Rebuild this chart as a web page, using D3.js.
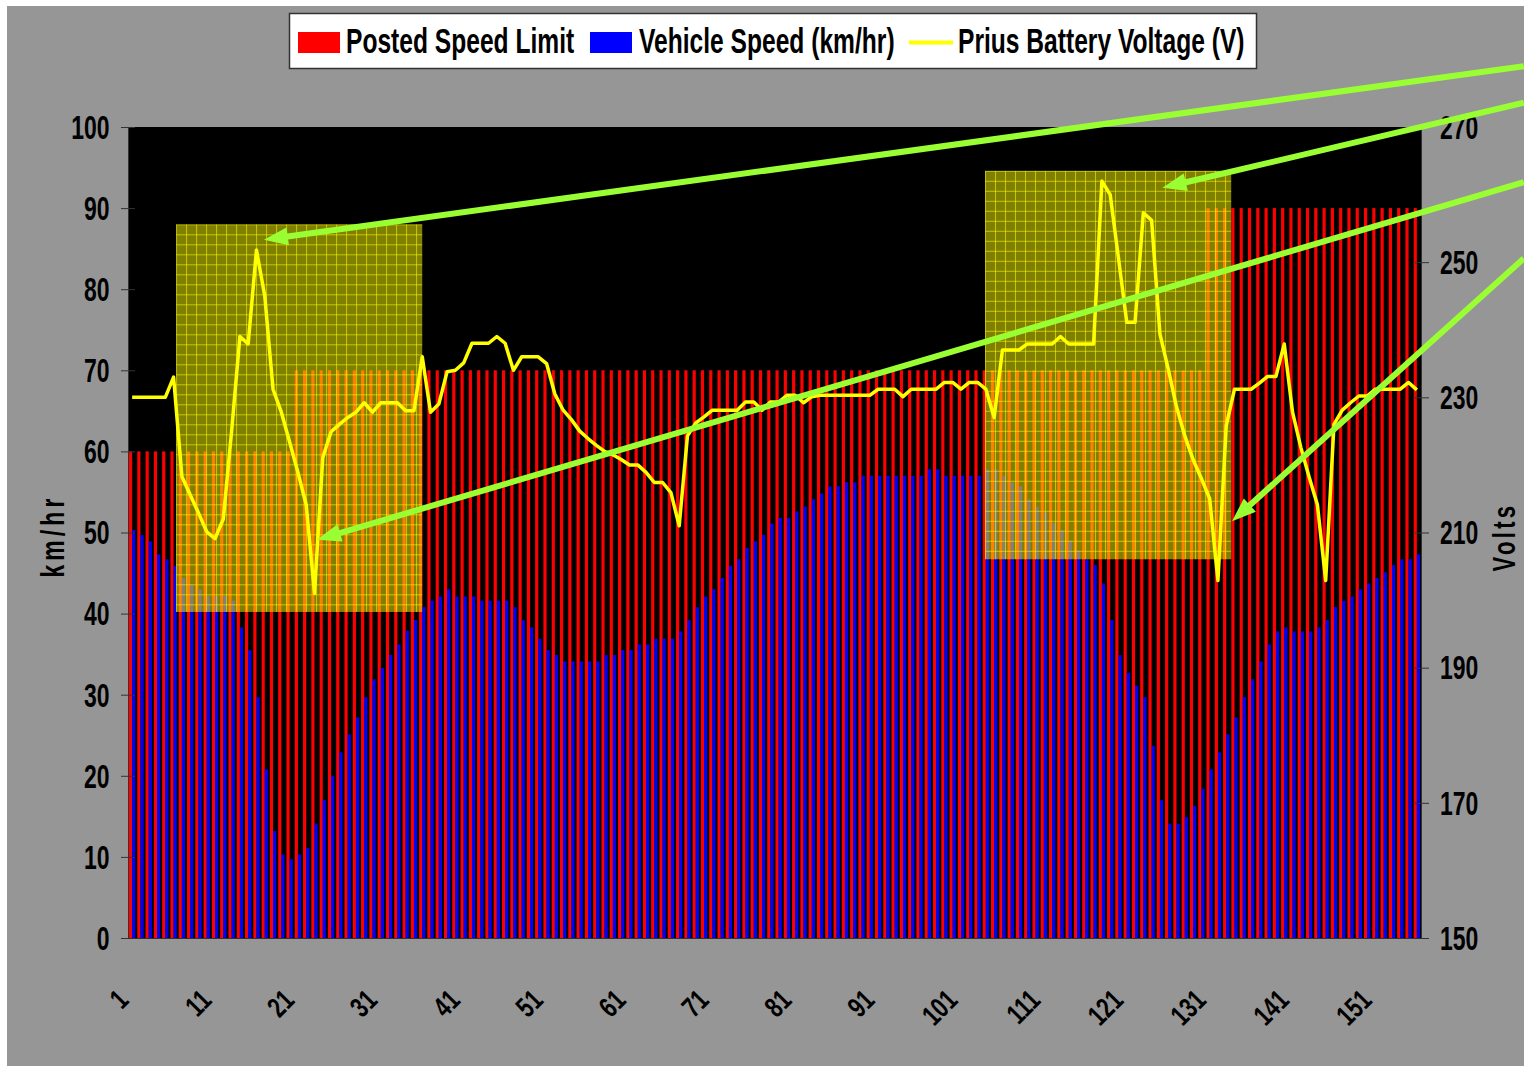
<!DOCTYPE html>
<html>
<head>
<meta charset="utf-8">
<script src="https://cdn.jsdelivr.net/npm/d3@7"></script>
<style>
  body { margin: 0; background: #fff; }
  text { font-family: "Liberation Sans", Arial, sans-serif; font-weight: bold; fill: #000; }
</style>
</head>
<body>
<div id="chart"></div>
<script>
// ---- data ----
var categories = d3.range(1, 157);
var xTickLabels = d3.range(1, 157, 10);
var leftTicks = d3.range(0, 101, 10);
var rightTicks = d3.range(150, 271, 20);
var seriesNames = ["Posted Speed Limit", "Vehicle Speed (km/hr)", "Prius Battery Voltage (V)"];

var speedLimit = [
  60,60,60,60,60,60,60,60,60,60, 60,60,60,60,60,60,60,60,60,60,
  70,70,70,70,70,70,70,70,70,70, 70,70,70,70,70,70,70,70,70,70,
  70,70,70,70,70,70,70,70,70,70, 70,70,70,70,70,70,70,70,70,70,
  70,70,70,70,70,70,70,70,70,70, 70,70,70,70,70,70,70,70,70,70,
  70,70,70,70,70,70,70,70,70,70, 70,70,70,70,70,70,70,70,70,70,
  70,70,70,70,70,70,70,70,70,70, 70,70,70,70,70,70,70,70,70,70,
  70,70,70,70,70,70,70,70,70,70, 90,90,90,90,90,90,90,90,90,90,
  90,90,90,90,90,90,90,90,90,90, 90,90,90,90,90,90
];

var vehicleSpeed = [
  50.3,49.7,48.9,47.3,46.7,45.9,44.4,43.6,43.0,42.2,
  42.2,42.2,41.6,38.3,35.5,29.7,20.8,13.2,10.3,9.7,
  10.3,11.1,14.1,17.0,20.0,22.9,25.1,27.2,29.7,31.9,
  33.3,34.9,36.2,37.9,39.2,40.8,41.6,42.1,43.0,42.1,
  42.1,42.1,41.6,41.6,41.6,41.6,40.8,39.2,38.3,36.9,
  35.5,34.9,34.1,34.1,34.1,34.1,34.1,34.9,34.9,35.5,
  35.5,36.2,36.2,36.9,36.9,36.9,37.8,39.2,40.8,42.1,
  43.0,44.4,45.9,46.7,48.1,48.9,49.7,51.1,51.8,51.8,
  52.6,53.2,54.1,54.8,55.7,55.7,56.2,56.2,57.0,57.0,
  57.0,57.0,57.0,57.0,57.0,57.0,57.8,57.8,57.0,57.0,
  57.0,57.0,57.0,57.8,57.8,57.0,56.2,55.7,54.1,53.2,
  52.5,51.2,50.3,49.0,47.8,46.7,46.0,43.7,39.2,34.9,
  32.7,31.1,29.7,23.7,17.0,14.1,14.1,14.9,16.3,18.4,
  20.8,22.9,25.1,27.2,29.7,31.9,34.1,36.2,37.8,38.3,
  37.8,37.8,37.8,38.3,39.2,40.8,41.6,42.1,43.0,43.7,
  44.4,45.1,46.0,46.7,46.7,47.3
];

var batteryVoltage = [
  230,230,230,230,230,233,218.3,215.6,212.9,210.1,
  209.1,212,225,239,237.9,251.8,245,231.2,227.8,223.4,
  218.9,214.1,201,221.1,224.9,226,227,227.8,229.2,227.8,
  229.2,229.2,229.2,228,228,236,227.8,229,233.8,234,
  235.1,238,238,238,239,238,234,236,236,236,
  235,230.5,228.1,226.7,225,223.9,222.9,222,221.5,220.8,
  220,220,218.9,217.4,217.4,215.9,211,224.3,226.2,227.1,
  228.1,228.1,228.1,228.1,229.3,229.3,228.1,229.3,229.3,230.3,
  230.3,229.2,230.1,230.3,230.3,230.3,230.3,230.3,230.3,230.3,
  231.2,231.2,231.2,230.1,231.2,231.2,231.2,231.2,232.2,232.2,
  231.2,232.2,232.2,231.2,227,237,237,237,237.9,237.9,
  237.9,237.9,239,237.9,237.9,237.9,237.9,262,260,250.6,
  241.1,241.1,257.3,256.2,239.4,234.2,228.6,224.3,220.8,218,
  215,202.9,225.8,231.2,231.2,231.2,232.1,233.1,233.1,237.9,
  227.8,222.6,218.2,214.1,202.9,226,228.1,229.2,230.2,230.2,
  231.2,231.2,231.2,231.2,232.2,231.1
];

// highlight boxes, in category offsets (x) and km/hr (y)
var boxX0 = [5.8, 103.4];
var boxX1 = [35.5, 133.1];
var boxTop = [88.0, 94.6];
var boxBottom = [40.2, 46.7];

// green arrows: tail (off the right side) and tip, same units
var arrowTailX = [168.4, 168.4, 168.4, 168.4];
var arrowTailY = [107.5, 103.0, 93.2, 83.8];
var arrowTipX = [16.4, 124.8, 22.8, 133.2];
var arrowTipY = [86.1, 92.5, 49.1, 51.4];

// ---- layout ----
var svgWidth = 1524, svgHeight = 1066;
var margin = { top: 127, bottom: 128, left: 128, right: 103 };
var plotRight = svgWidth - margin.right;
var plotBottom = svgHeight - margin.bottom;

var svg = d3.select("#chart").append("svg")
  .attr("width", svgWidth)
  .attr("height", svgHeight);

svg.append("rect").attr("width", svgWidth).attr("height", svgHeight).attr("fill", "#fff");
svg.append("rect").attr("x", 7).attr("y", 6)
  .attr("width", svgWidth - 7).attr("height", svgHeight - 6).attr("fill", "#969696");

// scales
var x = d3.scaleBand().domain(categories).range([margin.left, plotRight]).padding(0);
var xSub = d3.scaleBand().domain(["limit", "speed"]).range([x.step() * 0.12, x.step() * 0.88]);
var xPos = d3.scaleLinear().domain([0, categories.length]).range([margin.left, plotRight]);
var yLeft = d3.scaleLinear().domain([0, 100]).range([plotBottom, margin.top]);
var yRight = d3.scaleLinear().domain([150, 270]).range([plotBottom, margin.top]);

// plot area
svg.append("rect")
  .attr("x", margin.left).attr("y", margin.top)
  .attr("width", plotRight - margin.left).attr("height", plotBottom - margin.top)
  .attr("fill", "#000");

// bars
svg.append("g").selectAll("rect")
  .data(categories)
  .enter().append("rect")
  .attr("x", d => x(d) + xSub("limit"))
  .attr("y", (d, i) => yLeft(speedLimit[i]))
  .attr("width", xSub.bandwidth())
  .attr("height", (d, i) => plotBottom - yLeft(speedLimit[i]))
  .attr("fill", "#ff0000");

svg.append("g").selectAll("rect")
  .data(categories)
  .enter().append("rect")
  .attr("x", d => x(d) + xSub("speed"))
  .attr("y", (d, i) => yLeft(vehicleSpeed[i]))
  .attr("width", xSub.bandwidth())
  .attr("height", (d, i) => plotBottom - yLeft(vehicleSpeed[i]))
  .attr("fill", "#0000ff");

// highlight boxes with a grid pattern
var defs = svg.append("defs");
boxX0.forEach(function(b, i) {
  var bx = xPos(boxX0[i]), by = yLeft(boxTop[i]);
  var pat = defs.append("pattern")
    .attr("id", "grid" + i)
    .attr("patternUnits", "userSpaceOnUse")
    .attr("x", bx).attr("y", by)
    .attr("width", 10).attr("height", 10);
  pat.append("rect").attr("width", 10).attr("height", 10)
    .attr("fill", "#ffff00").attr("fill-opacity", 0.5);
  pat.append("path").attr("d", "M0,0.5H10M0.5,0V10")
    .attr("stroke", "#ffff00").attr("stroke-opacity", 0.55).attr("stroke-width", 1);
  svg.append("rect")
    .attr("x", bx).attr("y", by)
    .attr("width", xPos(boxX1[i]) - bx)
    .attr("height", yLeft(boxBottom[i]) - by)
    .attr("fill", "url(#grid" + i + ")");
});

// voltage line
var line = d3.line()
  .x((d, i) => x(categories[i]) + x.step() / 2)
  .y(d => yRight(d));

svg.append("path")
  .datum(batteryVoltage)
  .attr("d", line)
  .attr("fill", "none")
  .attr("stroke", "#ffff00")
  .attr("stroke-width", 3.5)
  .attr("stroke-linejoin", "round");

// axes
var sx = 0.82, sy = 1.155;

var gLeft = svg.append("g")
  .attr("transform", `translate(${margin.left},0)`)
  .call(d3.axisLeft(yLeft).tickValues(leftTicks).tickSize(0));
gLeft.select(".domain").attr("stroke", "#333");
gLeft.selectAll(".tick line").attr("x1", -7).attr("x2", 7).attr("stroke", "#333");
gLeft.selectAll(".tick text")
  .attr("x", 0).attr("dy", "0.35em")
  .attr("font-size", 28)
  .attr("transform", `translate(-18.5,0) scale(${sx},${sy})`);

var gRight = svg.append("g")
  .attr("transform", `translate(${plotRight},0)`)
  .call(d3.axisRight(yRight).tickValues(rightTicks).tickSize(0));
gRight.select(".domain").attr("stroke", "#333");
gRight.selectAll(".tick line").attr("x1", -8).attr("x2", 8).attr("stroke", "#333");
gRight.selectAll(".tick text")
  .attr("x", 0).attr("dy", "0.35em")
  .attr("font-size", 28)
  .attr("transform", `translate(19,0) scale(${sx},${sy})`);

var gBottom = svg.append("g")
  .attr("transform", `translate(0,${plotBottom})`)
  .call(d3.axisBottom(x).tickValues(xTickLabels).tickSize(0));
gBottom.select(".domain").attr("stroke", "#333");
gBottom.selectAll(".tick text")
  .attr("x", 0).attr("y", 0).attr("dy", 0)
  .attr("text-anchor", "end")
  .attr("font-size", 25)
  .attr("transform", "translate(-2,64) rotate(-45) scale(0.85,1.15)");

svg.selectAll("g").attr("font-family", null);

// axis titles
svg.append("text")
  .attr("transform", `translate(64,536) rotate(-90) scale(${sx},${sy})`)
  .attr("text-anchor", "middle")
  .attr("font-size", 28)
  .attr("letter-spacing", "5px")
  .text("km/hr");

svg.append("text")
  .attr("transform", `translate(1515,537) rotate(-90) scale(${sx},${sy})`)
  .attr("text-anchor", "middle")
  .attr("font-size", 27)
  .attr("letter-spacing", "4px")
  .text("Volts");

// legend
var legend = svg.append("g");
legend.append("rect")
  .attr("x", 289.5).attr("y", 13.5).attr("width", 967).attr("height", 55)
  .attr("fill", "#fff").attr("stroke", "#333").attr("stroke-width", 1.5);

legend.append("rect").attr("x", 298).attr("y", 32).attr("width", 42).attr("height", 21).attr("fill", "#ff0000");
legend.append("rect").attr("x", 590).attr("y", 32).attr("width", 42).attr("height", 21).attr("fill", "#0000ff");
legend.append("line").attr("x1", 909).attr("x2", 953).attr("y1", 42.5).attr("y2", 42.5)
  .attr("stroke", "#ffff00").attr("stroke-width", 4);

var legendX = [346, 639, 958];
legend.selectAll("text.item")
  .data(seriesNames)
  .enter().append("text")
  .attr("class", "item")
  .attr("font-size", 30)
  .attr("transform", (d, i) => `translate(${legendX[i]},53) scale(${sx},1.16)`)
  .text(d => d);

// green arrows
var green = "#99ff33";
arrowTipX.forEach(function(t, i) {
  var x0 = xPos(arrowTailX[i]), y0 = yLeft(arrowTailY[i]);
  var x1 = xPos(arrowTipX[i]), y1 = yLeft(arrowTipY[i]);
  var len = Math.hypot(x1 - x0, y1 - y0);
  var ux = (x1 - x0) / len, uy = (y1 - y0) / len;
  var headLen = 24, headW = 9;
  var bx = x1 - ux * headLen, by = y1 - uy * headLen;
  svg.append("line")
    .attr("x1", x0).attr("y1", y0).attr("x2", bx + ux * 2).attr("y2", by + uy * 2)
    .attr("stroke", green).attr("stroke-width", 6);
  svg.append("path")
    .attr("d", `M${x1},${y1}L${bx - uy * headW},${by + ux * headW}L${bx + uy * headW},${by - ux * headW}Z`)
    .attr("fill", green);
});
</script>
</body>
</html>
